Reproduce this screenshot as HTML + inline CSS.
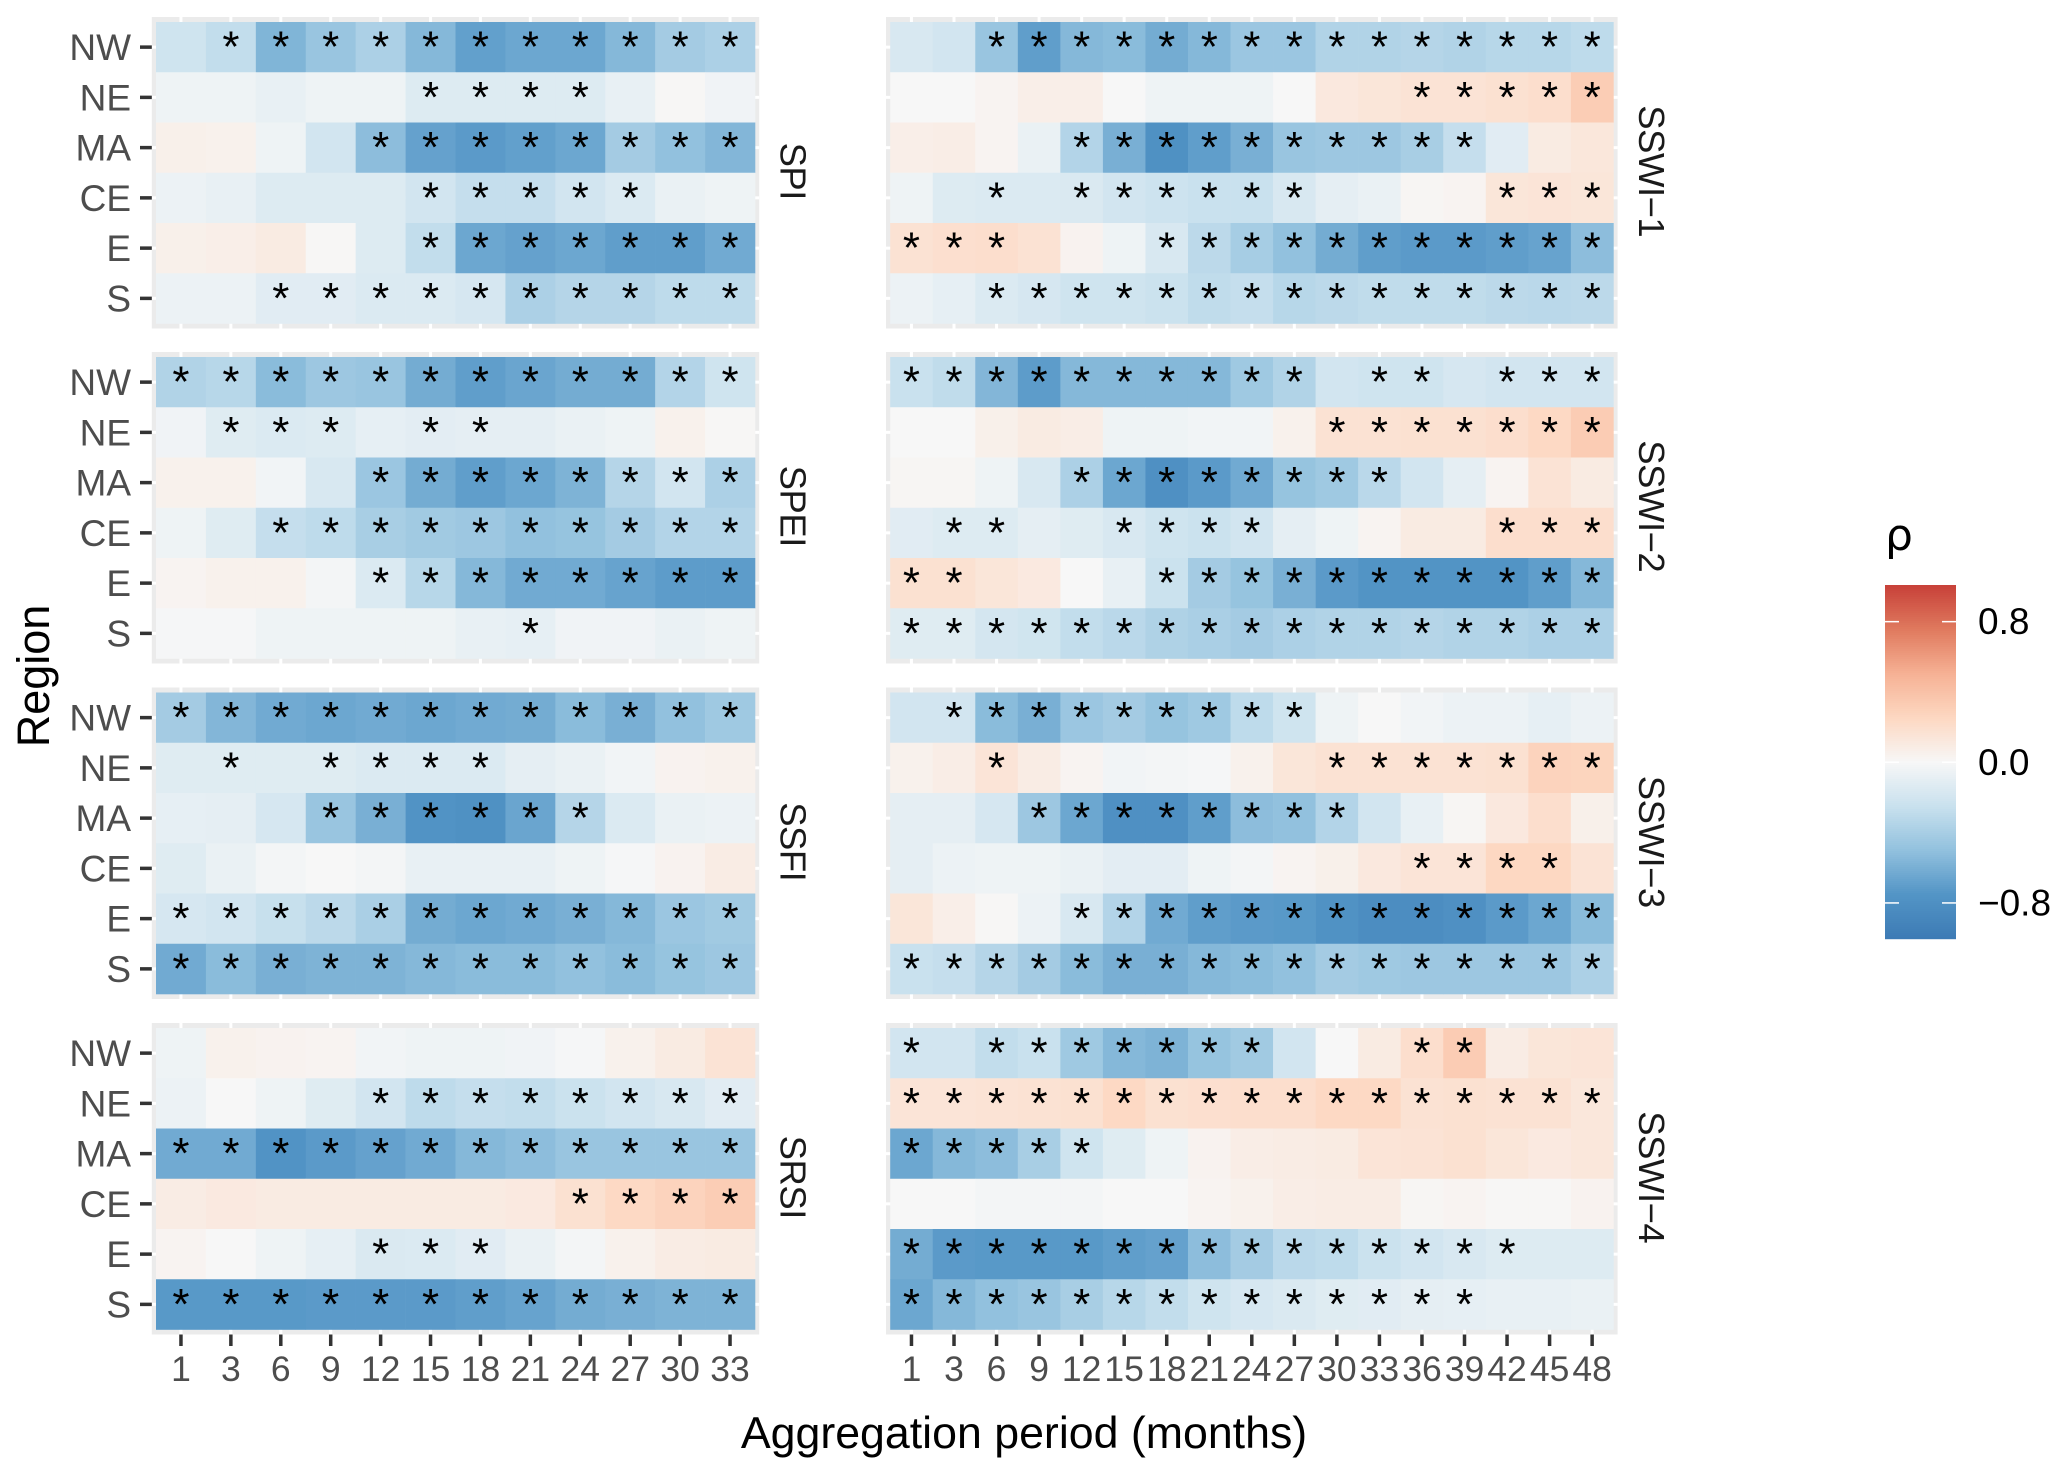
<!DOCTYPE html>
<html lang="en">
<head>
<meta charset="utf-8">
<title>Correlation heatmaps by region and aggregation period</title>
<style>
html,body{margin:0;padding:0;background:#fff;}
svg{display:block;font-family:"Liberation Sans",Arial,sans-serif;}
</style>
</head>
<body>
<svg id="chart" xmlns="http://www.w3.org/2000/svg" width="2067" height="1476" viewBox="0 0 2067 1476">
  <rect width="2067" height="1476" fill="#fff"/>
  <text transform="translate(49 676) rotate(-90)" text-anchor="middle" font-size="45" fill="#000">Region</text>
  <text x="1024" y="1448" text-anchor="middle" font-size="44.7" fill="#000">Aggregation period (months)</text>
  <text x="1885" y="550" font-size="44" font-family="'DejaVu Sans','Liberation Sans',sans-serif" fill="#000">ρ</text>
</svg>
<script>
const regions = ["NW","NE","MA","CE","E","S"];
const periodsLeft = ["1","3","6","9","12","15","18","21","24","27","30","33"];
const periodsRight = ["1","3","6","9","12","15","18","21","24","27","30","33","36","39","42","45","48"];
const legendTicks = [0.8, 0, -0.8];

const spiValues = [
[-.22,-.28,-.57,-.47,-.38,-.55,-.69,-.65,-.65,-.55,-.42,-.38],
[-.05,-.05,-.08,-.05,-.05,-.14,-.14,-.14,-.14,-.08,.01,-.04],
[.06,.05,-.05,-.2,-.52,-.68,-.72,-.69,-.65,-.42,-.5,-.56],
[-.06,-.08,-.14,-.14,-.14,-.2,-.27,-.27,-.2,-.15,-.07,-.05],
[.06,.07,.1,.01,-.14,-.28,-.65,-.68,-.65,-.7,-.7,-.63],
[-.06,-.06,-.12,-.12,-.15,-.15,-.18,-.38,-.34,-.34,-.3,-.3]];
const spiSignificant = ["011111111111","000001111000","000011111111","000001111100","000001111111","001111111111"];

const speiValues = [
[-.36,-.33,-.53,-.45,-.47,-.62,-.7,-.66,-.62,-.62,-.35,-.22],
[-.04,-.13,-.15,-.14,-.09,-.11,-.1,-.1,-.07,-.05,.05,.01],
[.05,.05,-.03,-.17,-.46,-.62,-.7,-.65,-.58,-.34,-.2,-.38],
[-.05,-.13,-.27,-.3,-.4,-.43,-.45,-.5,-.48,-.42,-.35,-.35],
[.03,.05,.05,-.02,-.15,-.33,-.55,-.63,-.63,-.67,-.71,-.71],
[-.01,-.01,-.05,-.05,-.05,-.05,-.08,-.09,-.04,-.04,-.07,-.05]];
const speiSignificant = ["111111111111","011101100000","000011111111","001111111111","000011111111","000000010000"];

const ssfiValues = [
[-.42,-.56,-.63,-.65,-.63,-.65,-.63,-.62,-.53,-.6,-.5,-.44],
[-.13,-.13,-.13,-.13,-.15,-.15,-.15,-.1,-.07,-.03,.04,.05],
[-.09,-.1,-.18,-.47,-.6,-.77,-.79,-.66,-.34,-.15,-.07,-.06],
[-.13,-.07,-.02,0,-.02,-.08,-.08,-.08,-.05,-.01,.04,.09],
[-.18,-.2,-.26,-.31,-.39,-.62,-.65,-.63,-.6,-.55,-.46,-.43],
[-.63,-.53,-.6,-.58,-.58,-.55,-.53,-.53,-.5,-.53,-.48,-.45]];
const ssfiSignificant = ["111111111111","010111100000","000111111000","000000000000","111111111111","111111111111"];

const srsiValues = [
[-.05,.05,.04,.03,-.03,-.05,-.05,-.04,-.01,.05,.1,.16],
[-.06,0,-.05,-.13,-.2,-.3,-.27,-.28,-.24,-.2,-.17,-.12],
[-.63,-.63,-.77,-.72,-.68,-.63,-.55,-.52,-.47,-.47,-.47,-.47],
[.09,.11,.1,.1,.1,.1,.1,.11,.18,.24,.28,.32],
[.03,0,-.05,-.09,-.16,-.15,-.12,-.07,-.02,.05,.09,.1],
[-.73,-.73,-.73,-.72,-.72,-.72,-.7,-.67,-.62,-.6,-.58,-.58]];
const srsiSignificant = ["000000000000","000011111111","111111111111","000000001111","000011100000","111111111111"];

const sswi1Values = [
[-.17,-.2,-.47,-.7,-.55,-.53,-.62,-.55,-.46,-.46,-.36,-.36,-.34,-.36,-.33,-.33,-.3],
[0,0,.03,.07,.07,0,-.05,-.05,-.05,0,.12,.14,.16,.16,.18,.2,.32],
[.07,.08,.03,-.07,-.35,-.6,-.79,-.7,-.6,-.47,-.45,-.45,-.4,-.27,-.12,.1,.13],
[-.05,-.14,-.15,-.15,-.16,-.2,-.23,-.25,-.25,-.17,-.1,-.07,.02,.03,.14,.15,.14],
[.17,.19,.2,.17,.04,-.05,-.17,-.31,-.41,-.5,-.62,-.7,-.72,-.72,-.7,-.67,-.52],
[-.06,-.09,-.15,-.18,-.22,-.22,-.24,-.29,-.27,-.33,-.31,-.29,-.29,-.29,-.31,-.32,-.31]];
const sswi1Significant = ["00111111111111111","00000000000011111","00001111111111000","00101111110000111","11100011111111111","00111111111111111"];

const sswi2Values = [
[-.25,-.29,-.56,-.71,-.55,-.55,-.55,-.55,-.44,-.36,-.2,-.22,-.22,-.18,-.2,-.2,-.2],
[0,0,.06,.1,.08,-.05,-.05,-.03,-.03,.05,.17,.17,.18,.18,.2,.24,.33],
[.02,.02,-.05,-.17,-.38,-.65,-.8,-.72,-.63,-.48,-.44,-.32,-.2,-.1,.03,.16,.1],
[-.12,-.14,-.14,-.1,-.13,-.17,-.22,-.24,-.2,-.1,-.05,.03,.1,.1,.2,.2,.2],
[.18,.18,.14,.11,0,-.08,-.24,-.42,-.48,-.6,-.72,-.76,-.76,-.76,-.76,-.7,-.55],
[-.13,-.13,-.19,-.21,-.28,-.32,-.37,-.39,-.42,-.38,-.36,-.36,-.34,-.36,-.36,-.38,-.38]];
const sswi2Significant = ["11111111110110111","00000000001111111","00001111111100000","01100111100000111","11000011111111111","11111111111111111"];

const sswi3Values = [
[-.2,-.2,-.53,-.6,-.46,-.42,-.48,-.44,-.3,-.22,-.05,0,-.03,-.06,-.06,-.09,-.06],
[.05,.08,.15,.09,.03,-.03,-.02,-.01,.05,.14,.17,.17,.17,.17,.18,.28,.27],
[-.1,-.1,-.18,-.45,-.65,-.8,-.8,-.7,-.52,-.5,-.35,-.2,-.08,.02,.12,.2,.06],
[-.1,-.06,-.05,-.05,-.07,-.11,-.11,-.05,-.02,.03,.06,.12,.15,.15,.25,.25,.16],
[.14,.07,.01,-.06,-.17,-.35,-.63,-.7,-.72,-.73,-.78,-.83,-.83,-.8,-.72,-.65,-.53],
[-.25,-.27,-.34,-.42,-.53,-.6,-.6,-.55,-.53,-.5,-.42,-.44,-.45,-.45,-.45,-.45,-.38]];
const sswi3Significant = ["01111111110000000","00100000001111111","00011111111000000","00000000000011110","00001111111111111","11111111111111111"];

const sswi4Values = [
[-.2,-.2,-.28,-.25,-.44,-.55,-.58,-.48,-.43,-.2,0,.1,.2,.33,.09,.14,.15],
[.15,.15,.16,.17,.18,.24,.18,.19,.2,.2,.24,.24,.17,.18,.17,.17,.13],
[-.65,-.55,-.52,-.4,-.22,-.13,-.05,.04,.08,.09,.1,.15,.16,.18,.14,.11,.13],
[0,0,-.02,-.02,-.02,0,0,.03,.05,.08,.09,.09,.02,.03,.01,.01,.04],
[-.62,-.72,-.73,-.73,-.73,-.7,-.68,-.52,-.42,-.32,-.3,-.24,-.2,-.17,-.14,-.14,-.14],
[-.65,-.55,-.5,-.47,-.4,-.33,-.28,-.22,-.18,-.16,-.13,-.12,-.1,-.09,-.08,-.08,-.07]];
const sswi4Significant = ["10111111100011000","11111111111111111","11111000000000000","00000000000000000","11111111111111100","11111111111111000"];

const svgNS = "http://www.w3.org/2000/svg";
const svg = document.getElementById("chart");

/* layout */
const panelTops = [17, 352, 687.5, 1023];
const PANEL_H = 311.5, PAD_Y = 5, PAD_X = 4.2;
const LEFT = {x0: 151.8, x1: 759.2};
const RIGHT = {x0: 886, x1: 1617.6};

/* colour scale: value to colour */
const colorDomain = [-1,-.75,-.5,-.25,0,.25,.5,.75,1];
const colorRange = ["#3d7bb5","#5395c6","#92c1de","#c9e1ee","#f7f7f7","#fdd8c2","#f6b295","#e07b5f","#c8423a"];
function hexToRgb(h){return [1,3,5].map(function(i){return parseInt(h.substr(i,2),16);});}
function colorScale(v){
  const c = Math.max(-1, Math.min(1, v));
  let i = 0;
  while (i < colorDomain.length - 2 && c > colorDomain[i+1]) i++;
  const t = (c - colorDomain[i]) / (colorDomain[i+1] - colorDomain[i]);
  const a = hexToRgb(colorRange[i]), b = hexToRgb(colorRange[i+1]);
  return "rgb(" + a.map(function(x,k){return Math.round(x + (b[k]-x)*t);}).join(",") + ")";
}

function make(tag, parent){
  const el = document.createElementNS(svgNS, tag);
  parent.appendChild(el);
  return el;
}

function drawPanel(col, rowIndex, values, significant, periods, label, panelName, showYAxis, showXAxis){
  const top = panelTops[rowIndex];
  const g = make("g", svg);
  
  

  const bg = make("rect", g);
  
  
  bg.setAttribute("x", col.x0);
  bg.setAttribute("y", top);
  bg.setAttribute("width", col.x1 - col.x0);
  bg.setAttribute("height", PANEL_H);
  bg.setAttribute("fill", "#ebebeb");

  const innerX = col.x0 + PAD_X;
  const innerW = col.x1 - col.x0 - 2 * PAD_X;
  const innerY = top + PAD_Y;
  const innerH = PANEL_H - 2 * PAD_Y;
  const bandX = innerW / periods.length;
  const bandY = innerH / regions.length;
  const xScale = function(i){return innerX + bandX * i;};
  const yScale = function(j){return innerY + bandY * j;};

  /* gridlines showing in the panel margins */
  periods.forEach(function(p, i){
    const line = make("line", g);
    
    
    line.setAttribute("x1", xScale(i) + bandX/2);
    line.setAttribute("x2", xScale(i) + bandX/2);
    line.setAttribute("y1", top);
    line.setAttribute("y2", top + PANEL_H);
    line.setAttribute("stroke", "#fff");
    line.setAttribute("stroke-width", "3");
  });
  regions.forEach(function(r, j){
    const line = make("line", g);
    
    
    line.setAttribute("x1", col.x0);
    line.setAttribute("x2", col.x1);
    line.setAttribute("y1", yScale(j) + bandY/2);
    line.setAttribute("y2", yScale(j) + bandY/2);
    line.setAttribute("stroke", "#fff");
    line.setAttribute("stroke-width", "3");
  });

  /* cells */
  regions.forEach(function(r, j){
    periods.forEach(function(p, i){
      const cell = make("rect", g);
      
      
      cell.setAttribute("x", xScale(i));
      cell.setAttribute("y", yScale(j));
      cell.setAttribute("width", bandX + 0.3);
      cell.setAttribute("height", bandY + 0.3);
      cell.setAttribute("fill", colorScale(values[j][i]));
    });
  });

  /* significance stars */
  regions.forEach(function(r, j){
    periods.forEach(function(p, i){
      if (significant[j][i] !== "1") return;
      const star = make("text", g);
      
      
      star.setAttribute("x", xScale(i) + bandX/2);
      star.setAttribute("y", yScale(j) + bandY/2 + 14.5);
      star.setAttribute("text-anchor", "middle");
      star.setAttribute("font-size", "44");
      star.setAttribute("fill", "#000");
      star.textContent = "*";
    });
  });

  /* y axis */
  if (showYAxis) {
    regions.forEach(function(r, j){
      const cy = yScale(j) + bandY/2;
      const tick = make("line", g);
      
      
      tick.setAttribute("x1", 140);
      tick.setAttribute("x2", col.x0);
      tick.setAttribute("y1", cy);
      tick.setAttribute("y2", cy);
      tick.setAttribute("stroke", "#333");
      tick.setAttribute("stroke-width", "3.5");
      const txt = make("text", g);
      
      
      txt.setAttribute("x", 131);
      txt.setAttribute("y", cy + 13);
      txt.setAttribute("text-anchor", "end");
      txt.setAttribute("font-size", "37");
      txt.setAttribute("fill", "#4d4d4d");
      txt.textContent = r;
    });
  }

  /* x axis */
  if (showXAxis) {
    periods.forEach(function(p, i){
      const cx = xScale(i) + bandX/2;
      const tick = make("line", g);
      
      
      tick.setAttribute("x1", cx);
      tick.setAttribute("x2", cx);
      tick.setAttribute("y1", top + PANEL_H);
      tick.setAttribute("y2", top + PANEL_H + 11.5);
      tick.setAttribute("stroke", "#333");
      tick.setAttribute("stroke-width", "3.5");
      const txt = make("text", g);
      
      
      txt.setAttribute("x", cx);
      txt.setAttribute("y", 1381);
      txt.setAttribute("text-anchor", "middle");
      txt.setAttribute("font-size", "35.5");
      txt.setAttribute("fill", "#4d4d4d");
      txt.textContent = p;
    });
  }

  /* facet strip label */
  const strip = make("text", g);
  
  
  const sx = col.x1 + 21.5;
  const sy = top + PANEL_H / 2 - 1.5;
  strip.setAttribute("transform", "translate(" + sx + " " + sy + ") rotate(90)");
  strip.setAttribute("text-anchor", "middle");
  strip.setAttribute("font-size", "36.5");
  strip.setAttribute("letter-spacing", "-0.5");
  strip.setAttribute("fill", "#1a1a1a");
  strip.textContent = label;
}

drawPanel(LEFT, 0, spiValues, spiSignificant, periodsLeft, "SPI", "spi", true, false);
drawPanel(LEFT, 1, speiValues, speiSignificant, periodsLeft, "SPEI", "spei", true, false);
drawPanel(LEFT, 2, ssfiValues, ssfiSignificant, periodsLeft, "SSFI", "ssfi", true, false);
drawPanel(LEFT, 3, srsiValues, srsiSignificant, periodsLeft, "SRSI", "srsi", true, true);
drawPanel(RIGHT, 0, sswi1Values, sswi1Significant, periodsRight, "SSWI\u22121", "sswi-1", false, false);
drawPanel(RIGHT, 1, sswi2Values, sswi2Significant, periodsRight, "SSWI\u22122", "sswi-2", false, false);
drawPanel(RIGHT, 2, sswi3Values, sswi3Significant, periodsRight, "SSWI\u22123", "sswi-3", false, false);
drawPanel(RIGHT, 3, sswi4Values, sswi4Significant, periodsRight, "SSWI\u22124", "sswi-4", false, true);

/* legend colour bar */
const LEG = {x: 1885, w: 71, top: 585, bottom: 939, zeroY: 762.3, perUnit: 175.8};
const legendScale = function(v){return LEG.zeroY - v * LEG.perUnit;};
const legendGroup = make("g", svg);


for (let y = LEG.top; y < LEG.bottom; y += 2) {
  const seg = make("rect", legendGroup);
  
  
  seg.setAttribute("x", LEG.x);
  seg.setAttribute("y", y);
  seg.setAttribute("width", LEG.w);
  seg.setAttribute("height", 2.2);
  seg.setAttribute("fill", colorScale((LEG.zeroY - y - 1) / LEG.perUnit));
}
legendTicks.forEach(function(v){
  const y = legendScale(v);
  const t1 = make("line", legendGroup);
  
  
  t1.setAttribute("x1", LEG.x);
  t1.setAttribute("x2", LEG.x + 14);
  t1.setAttribute("y1", y);
  t1.setAttribute("y2", y);
  t1.setAttribute("stroke", "#fff");
  t1.setAttribute("stroke-width", "1.5");
  const t2 = make("line", legendGroup);
  
  
  t2.setAttribute("x1", LEG.x + LEG.w - 14);
  t2.setAttribute("x2", LEG.x + LEG.w);
  t2.setAttribute("y1", y);
  t2.setAttribute("y2", y);
  t2.setAttribute("stroke", "#fff");
  t2.setAttribute("stroke-width", "1.5");
  const lab = make("text", legendGroup);
  
  
  lab.setAttribute("x", 1978);
  lab.setAttribute("y", y + 12.5);
  lab.setAttribute("font-size", "37");
  lab.setAttribute("fill", "#000");
  lab.textContent = (v < 0 ? "\u2212" : "") + Math.abs(v).toFixed(1);
});
</script>
</body>
</html>
